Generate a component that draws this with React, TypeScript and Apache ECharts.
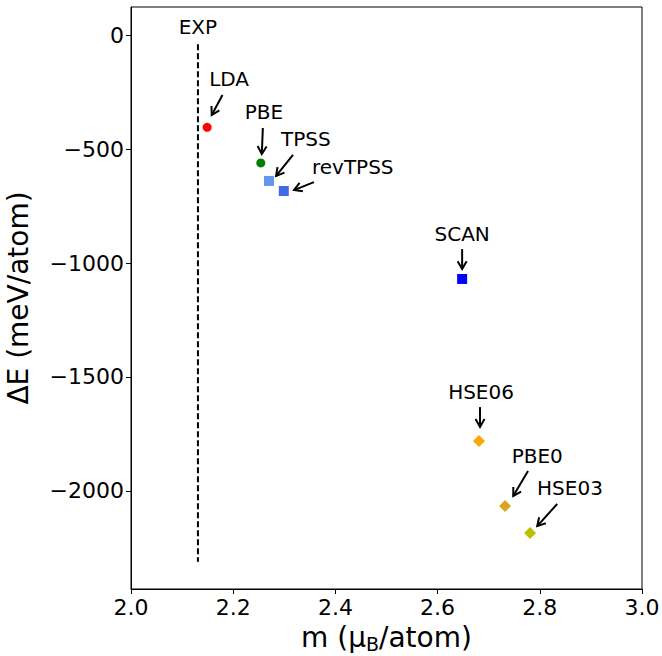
import React, { useEffect, useRef } from "react";
import * as echarts from "echarts";

// Functional data points
const methods = ["LDA", "PBE", "TPSS", "revTPSS", "SCAN", "HSE06", "PBE0", "HSE03"];
const magMoments = [2.149, 2.254, 2.27, 2.299, 2.648, 2.681, 2.732, 2.781];
const energies = [-405, -561, -640, -684, -1070, -1781, -2066, -2184];
const colors = ["#ff0000", "#008000", "#6495ed", "#4169e1", "#0000ff", "#ffa500", "#daa520", "#bfbf00"];
const symbols = ["circle", "circle", "rect", "rect", "rect", "diamond", "diamond", "diamond"];

// Experimental reference (vertical dashed line)
const expM = 2.131;
const expTop = -40;
const expBottom = -2311;

// Annotation labels (data coordinates)
const labelTexts = ["EXP", "LDA", "PBE", "TPSS", "revTPSS", "SCAN", "HSE06", "PBE0", "HSE03"];
const labelX = [2.131, 2.192, 2.26, 2.342, 2.434, 2.648, 2.685, 2.795, 2.859];
const labelY = [35, -193, -338, -456, -579, -873, -1566, -1846, -1987];

// Arrows: tail -> head (data coordinates)
const arrowTailX = [2.179, 2.258, 2.317, 2.358, 2.648, 2.683, 2.777, 2.834];
const arrowTailY = [-263, -408, -526, -645, -939, -1632, -1912, -2057];
const arrowHeadX = [2.158, 2.256, 2.284, 2.319, 2.648, 2.683, 2.748, 2.795];
const arrowHeadY = [-351, -522, -618, -680, -1026, -1719, -2022, -2154];

const yTicks = [0, -500, -1000, -1500, -2000];

const FONT = "DejaVu Sans";

export default function App() {
  const ref = useRef<HTMLDivElement>(null);
  useEffect(() => {
    if (!ref.current) return;
    const chart = echarts.init(ref.current, null, { renderer: "svg" });
    const sizeFor = (s: string) => (s === "circle" ? 9 : s === "rect" ? 10 : 12);
    chart.setOption({
      animation: false,
      grid: {
        left: 131,
        right: 20,
        top: 7,
        bottom: 67,
        show: true,
        borderColor: "#000",
        borderWidth: 1,
        backgroundColor: "transparent",
        containLabel: false,
        outerBoundsMode: "none",
      },
      xAxis: {
        type: "value",
        min: 2.0,
        max: 3.0,
        interval: 0.2,
        name: "m (μ{sub|B}/atom)",
        nameLocation: "middle",
        nameGap: 32,
        nameTextStyle: {
          fontFamily: FONT,
          fontSize: 28,
          color: "#000",
          rich: {
            sub: { fontFamily: FONT, fontSize: 19, color: "#000", padding: [13, 0, 0, 0] },
          },
        },
        axisLine: { show: true, onZero: false, lineStyle: { color: "#000", width: 1 } },
        axisTick: { show: true, inside: false, length: 5, lineStyle: { color: "#000" } },
        axisLabel: {
          fontFamily: FONT,
          fontSize: 22,
          color: "#000",
          margin: 7,
          formatter: (v: number) => v.toFixed(1),
        },
        splitLine: { show: false },
      },
      yAxis: {
        type: "value",
        min: -2430,
        max: 123,
        name: "ΔE (meV/atom)",
        nameLocation: "middle",
        nameGap: 99,
        nameTextStyle: { fontFamily: FONT, fontSize: 28, color: "#000" },
        axisLine: { show: true, onZero: false, lineStyle: { color: "#000", width: 1 } },
        axisTick: {
          show: true,
          inside: false,
          length: 5,
          lineStyle: { color: "#000" },
          customValues: yTicks,
        },
        axisLabel: {
          fontFamily: FONT,
          fontSize: 22,
          color: "#000",
          margin: 7,
          customValues: yTicks,
          formatter: (v: number) => String(v).replace("-", "\u2212"),
        },
        splitLine: { show: false },
      },
      series: [
        {
          type: "line",
          data: [
            [expM, expTop],
            [expM, expBottom],
          ],
          symbol: "none",
          lineStyle: { color: "#000", width: 2, type: [6, 3] },
          z: 1,
        },
        {
          type: "scatter",
          data: methods.map((n, i) => ({
            name: n,
            value: [magMoments[i], energies[i]],
            symbol: symbols[i],
            symbolSize: sizeFor(symbols[i]),
            itemStyle: { color: colors[i], opacity: 1 },
          })),
          itemStyle: { opacity: 1 },
          z: 3,
        },
        {
          type: "custom",
          data: arrowTailX.map((x, i) => [x, arrowTailY[i], arrowHeadX[i], arrowHeadY[i]]),
          encode: { x: [0, 2], y: [1, 3] },
          renderItem: (params: any, api: any) => {
            const t = api.coord([api.value(0), api.value(1)]);
            const h = api.coord([api.value(2), api.value(3)]);
            const ang = Math.atan2(h[1] - t[1], h[0] - t[0]);
            const L = 9;
            const a = Math.PI / 6;
            const p1 = [h[0] - L * Math.cos(ang - a), h[1] - L * Math.sin(ang - a)];
            const p2 = [h[0] - L * Math.cos(ang + a), h[1] - L * Math.sin(ang + a)];
            return {
              type: "group",
              children: [
                {
                  type: "line",
                  shape: { x1: t[0], y1: t[1], x2: h[0], y2: h[1] },
                  style: { stroke: "#000", lineWidth: 2 },
                },
                {
                  type: "polyline",
                  shape: { points: [p1, h, p2] },
                  style: { stroke: "#000", lineWidth: 2, fill: null },
                },
              ],
            };
          },
          z: 2,
        },
        {
          type: "custom",
          data: labelX.map((x, i) => [x, labelY[i], i]),
          encode: { x: 0, y: 1 },
          renderItem: (params: any, api: any) => {
            const p = api.coord([api.value(0), api.value(1)]);
            const idx = api.value(2);
            return {
              type: "text",
              x: p[0],
              y: p[1],
              style: {
                text: labelTexts[idx],
                fontFamily: FONT,
                fontSize: 20,
                fill: "#000",
                align: "center",
                verticalAlign: "middle",
              },
            };
          },
          z: 4,
        },
      ],
    });
    return () => chart.dispose();
  }, []);
  return (
    <div
      ref={ref}
      style={{ position: "absolute", left: 0, top: 0, width: 662, height: 656 }}
    />
  );
}
